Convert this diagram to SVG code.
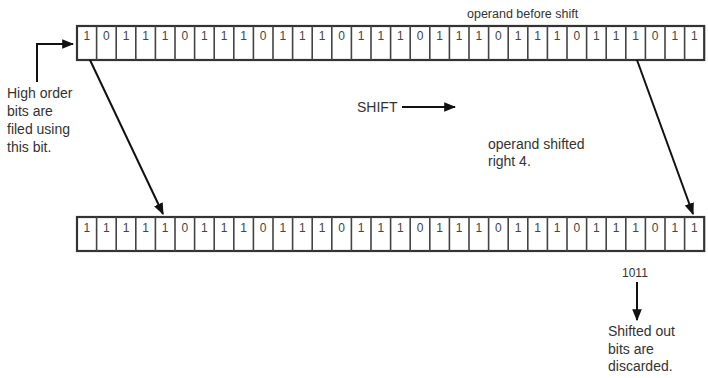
<svg xmlns="http://www.w3.org/2000/svg" width="708" height="378" viewBox="0 0 708 378">
<style>
.lbl{font-family:"Liberation Sans",Arial,sans-serif;font-size:14px;fill:#333}
.dig{font-family:"Liberation Sans",Arial,sans-serif;font-size:12px;fill:#444;text-anchor:middle}
.box{fill:#fff;stroke:#333;stroke-width:2.2}
.div{fill:none;stroke:#444;stroke-width:1.6}
.ln{fill:none;stroke:#111;stroke-width:2}
</style>
<defs>
<marker id="ahL" viewBox="0 0 10 10" refX="9" refY="5" markerWidth="12" markerHeight="12" markerUnits="userSpaceOnUse" orient="auto">
<path d="M0,1 L10,5 L0,9 z" fill="#111"/>
</marker>
</defs>
<g id="top-register">
<rect class="box" x="77" y="26" width="627.2" height="34"/>
<path class="div" d="M96.6 26V60M116.2 26V60M135.8 26V60M155.4 26V60M175 26V60M194.6 26V60M214.2 26V60M233.8 26V60M253.4 26V60M273 26V60M292.6 26V60M312.2 26V60M331.8 26V60M351.4 26V60M371 26V60M390.6 26V60M410.2 26V60M429.8 26V60M449.4 26V60M469 26V60M488.6 26V60M508.2 26V60M527.8 26V60M547.4 26V60M567 26V60M586.6 26V60M606.2 26V60M625.8 26V60M645.4 26V60M665 26V60M684.6 26V60"/>
<text class="dig" y="40" x="86.8 106.4 126 145.6 165.2 184.8 204.4 224 243.6 263.2 282.8 302.4 322 341.6 361.2 380.8 400.4 420 439.6 459.2 478.8 498.4 518 537.6 557.2 576.8 596.4 616 635.6 655.2 674.8 694.4">10111011101110111011101110111011</text>
<text class="lbl" x="467" y="18" style="font-size:12.5px">operand before shift</text>
</g>
<g id="bottom-register">
<rect class="box" x="77" y="217" width="627.2" height="34"/>
<path class="div" d="M96.6 217V251M116.2 217V251M135.8 217V251M155.4 217V251M175 217V251M194.6 217V251M214.2 217V251M233.8 217V251M253.4 217V251M273 217V251M292.6 217V251M312.2 217V251M331.8 217V251M351.4 217V251M371 217V251M390.6 217V251M410.2 217V251M429.8 217V251M449.4 217V251M469 217V251M488.6 217V251M508.2 217V251M527.8 217V251M547.4 217V251M567 217V251M586.6 217V251M606.2 217V251M625.8 217V251M645.4 217V251M665 217V251M684.6 217V251"/>
<text class="dig" y="232" x="86.8 106.4 126 145.6 165.2 184.8 204.4 224 243.6 263.2 282.8 302.4 322 341.6 361.2 380.8 400.4 420 439.6 459.2 478.8 498.4 518 537.6 557.2 576.8 596.4 616 635.6 655.2 674.8 694.4">11111011101110111011101110111011</text>
</g>
<g id="high-order-note">
<text class="lbl"><tspan x="7" y="98">High order</tspan><tspan x="7" y="116">bits are</tspan><tspan x="7" y="134">filed using</tspan><tspan x="7" y="152">this bit.</tspan></text>
</g>
<g id="shift-label">
<text class="lbl" x="357" y="112">SHIFT</text>
</g>
<g id="shifted-note">
<text class="lbl"><tspan x="488" y="149">operand shifted</tspan><tspan x="488" y="166">right 4.</tspan></text>
</g>
<g id="discard-note">
<text class="lbl" x="622" y="277" style="font-size:12px">1011</text>
<text class="lbl"><tspan x="608" y="336">Shifted out</tspan><tspan x="608" y="354">bits are</tspan><tspan x="608" y="371">discarded.</tspan></text>
</g>
<g id="connectors">
<path class="ln" d="M37 82V44H73" marker-end="url(#ahL)"/>
<path class="ln" d="M402 107H455" marker-end="url(#ahL)"/>
<path class="ln" d="M90 60L163 214" marker-end="url(#ahL)"/>
<path class="ln" d="M637 60L693 214" marker-end="url(#ahL)"/>
<path class="ln" d="M637 282V320" marker-end="url(#ahL)"/>
</g>
</svg>
